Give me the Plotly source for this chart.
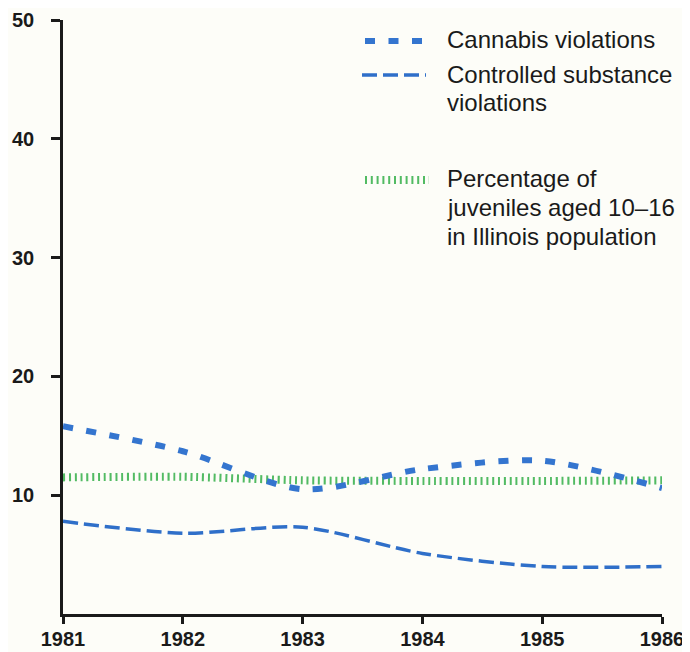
import plotly.graph_objects as go

years = [1981, 1982, 1983, 1984, 1985, 1986]
cannabis = [15.8, 13.7, 10.5, 12.2, 12.9, 10.6]
controlled = [7.8, 6.8, 7.3, 5.1, 4.0, 4.0]
juveniles = [11.5, 11.55, 11.25, 11.2, 11.2, 11.25]

y_ticks = [10, 20, 30, 40, 50]
x_ticks = years

legend_labels = ["Cannabis violations",
                 ["Controlled substance", "violations"],
                 ["Percentage of", "juveniles aged 10\u201316", "in Illinois population"]]

BLUE = "#3475cf"
BLUE2 = "#2f6fc9"
GREEN = "#52bb63"
BG = "#fdfdf8"

fig = go.Figure()
fig.add_trace(go.Scatter(x=years, y=juveniles, mode="lines", name="juveniles",
                         line=dict(color=GREEN, width=8, dash="2px,3.8px", shape="spline", smoothing=0.6),
                         showlegend=False, hoverinfo="skip"))
fig.add_trace(go.Scatter(x=years, y=controlled, mode="lines", name="controlled",
                         line=dict(color=BLUE2, width=3.5, dash="15px,6px", shape="spline", smoothing=0.8),
                         showlegend=False))
fig.add_trace(go.Scatter(x=years, y=cannabis, mode="lines", name="cannabis",
                         line=dict(color=BLUE, width=6, dash="10px,13.5px", shape="spline", smoothing=0.8),
                         showlegend=False))

# page body has an 8px margin; size the figure so it fits the 690x652 window
OFF = 8
W, H = 690 - OFF, 652 - OFF
L, R, T, B = 63 - OFF, 28, 20 - OFF, 38
pw, ph = W - L - R, H - T - B


def px(x):
    return (x - OFF - L) / pw


def py(y):
    return (H - B - (y - OFF)) / ph


shapes = [
    dict(type="line", xref="paper", yref="paper", x0=px(365), x1=px(423), y0=py(41), y1=py(41),
         line=dict(color=BLUE, width=6, dash="10px,13.5px")),
    dict(type="line", xref="paper", yref="paper", x0=px(362), x1=px(426), y0=py(75), y1=py(75),
         line=dict(color=BLUE2, width=3.5, dash="15px,6px")),
    dict(type="line", xref="paper", yref="paper", x0=px(365), x1=px(429), y0=py(180), y1=py(180),
         line=dict(color=GREEN, width=8, dash="2px,3.8px")),
]

annotations = []
txt_font = dict(family="Liberation Sans, Arial", size=24, color="#1a1a1a")
annotations.append(dict(text=legend_labels[0], x=px(445), y=py(40), xref="paper", yref="paper",
                        xanchor="left", yanchor="middle", showarrow=False, font=txt_font))
for i, line in enumerate(legend_labels[1]):
    annotations.append(dict(text=line, x=px(445), y=py(74 + 28 * i), xref="paper", yref="paper",
                            xanchor="left", yanchor="middle", showarrow=False, font=txt_font))
for i, line in enumerate(legend_labels[2]):
    annotations.append(dict(text=line, x=px(445), y=py(179 + 28.5 * i), xref="paper", yref="paper",
                            xanchor="left", yanchor="middle", showarrow=False, font=txt_font))

tick_font = dict(family="Liberation Sans, Arial", size=20, color="#1a1a1a", weight="bold")

fig.update_layout(
    width=W, height=H,
    margin=dict(l=L, r=R, t=T, b=B),
    paper_bgcolor=BG, plot_bgcolor=BG,
    shapes=shapes, annotations=annotations,
    showlegend=False,
    xaxis=dict(range=[1981, 1986], tickvals=x_ticks, ticktext=[str(v) for v in x_ticks],
               showgrid=False, zeroline=False, showline=True, linecolor="#1a1a1a", linewidth=3,
               ticks="outside", ticklen=7, tickwidth=2.5, tickcolor="#1a1a1a",
               tickfont=tick_font, ticklabelstandoff=-2, automargin=False,
               ticklabeloverflow="allow"),
    yaxis=dict(range=[0, 50], tickvals=y_ticks, ticktext=[str(v) for v in y_ticks],
               showgrid=False, zeroline=False, showline=True, linecolor="#1a1a1a", linewidth=2.5,
               ticks="outside", ticklen=9, tickwidth=2.5, tickcolor="#1a1a1a",
               tickfont=tick_font, ticklabelstandoff=13, automargin=False,
               ticklabeloverflow="allow"),
)

fig.write_html("out.html")
